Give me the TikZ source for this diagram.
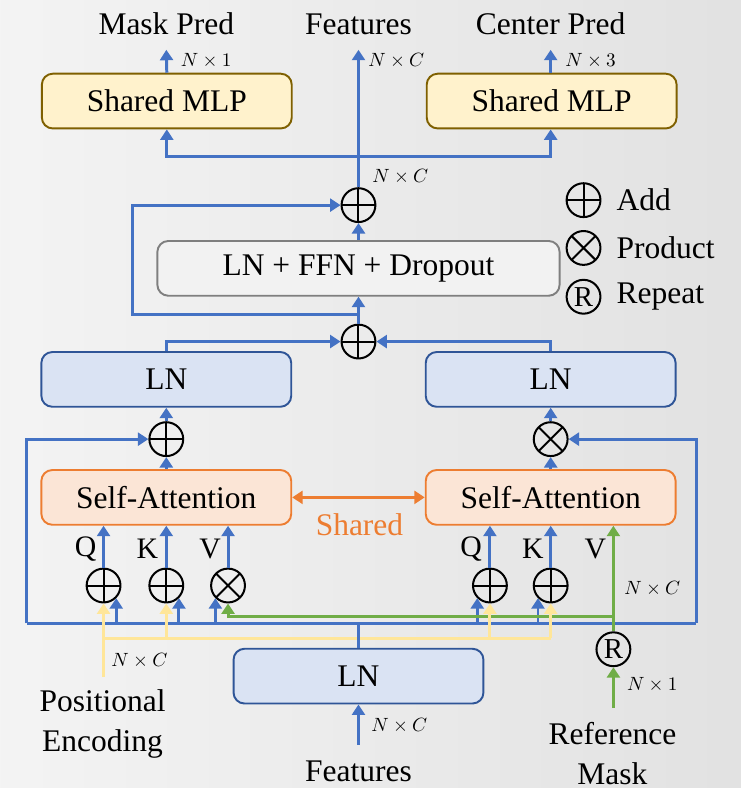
\documentclass[tikz,border=0pt]{standalone}
\usepackage{fontspec}
\setmainfont{Liberation Serif}
\usetikzlibrary{positioning,arrows.meta}

\definecolor{lnfill}{HTML}{DAE3F3}
\definecolor{lnedge}{HTML}{2F5597}
\definecolor{mlpfill}{HTML}{FFF2CC}
\definecolor{mlpedge}{HTML}{7F6000}
\definecolor{safill}{HTML}{FBE5D6}
\definecolor{saedge}{HTML}{ED7D31}
\definecolor{ffnfill}{HTML}{F2F2F2}
\definecolor{ffnedge}{HTML}{7F7F7F}
\definecolor{wire}{HTML}{4472C4}
\definecolor{poswire}{HTML}{FFE699}
\definecolor{maskwire}{HTML}{70AD47}

\begin{document}
\begin{tikzpicture}[
      x=0.02cm, y=-0.02cm,
      font=\fontsize{18}{23}\selectfont,
      box/.style={draw, rounded corners=2.2mm, line width=1.1pt, minimum width=5.02cm,
                  minimum height=1.1cm, inner sep=0pt},
      lnbox/.style={box, fill=lnfill, draw=lnedge},
      mlpbox/.style={box, fill=mlpfill, draw=mlpedge},
      attnbox/.style={box, fill=safill, draw=saedge},
      ffnbox/.style={box, fill=ffnfill, draw=ffnedge, minimum width=8.08cm},
      op/.style={circle, draw, line width=1.15pt, minimum size=0.68cm, inner sep=0pt},
      addop/.style={op, path picture={\draw[line width=1.15pt]
          (path picture bounding box.north) -- (path picture bounding box.south)
          (path picture bounding box.west) -- (path picture bounding box.east);}},
      mulop/.style={op, path picture={\draw[line width=1.15pt]
          (path picture bounding box.north west) -- (path picture bounding box.south east)
          (path picture bounding box.south west) -- (path picture bounding box.north east);}},
      rptop/.style={op, font=\fontsize{16.5}{16.5}\selectfont},
      flow/.style={-{Triangle[length=2.1mm,width=2.6mm]}, wire, line width=1.7pt},
      bus/.style={wire, line width=1.7pt},
      posflow/.style={flow, poswire},
      maskflow/.style={flow, maskwire},
      shareflow/.style={{Triangle[length=2.1mm,width=2.6mm]}-{Triangle[length=2.1mm,width=2.6mm]},
                        saedge, line width=1.7pt},
      dimlab/.style={font=\fontsize{10.5}{12}\selectfont},
      qkv/.style={font=\fontsize{17}{18}\selectfont},
    ]
    \fill[left color=gray!9, right color=gray!23] (0,0) rectangle (744,791);

    \node[mlpbox] (mlpl) at (167.5,101.5) {Shared MLP};
    \node[mlpbox] (mlpr) at (554,101.5) {Shared MLP};
    \node[addop] (addtop) at (360,206) {};
    \node[ffnbox] (ffn) at (360,269.5) {LN + FFN + Dropout};
    \node[addop] (addmid) at (360,343) {};
    \node[lnbox] (lnl) at (167,381) {LN};
    \node[lnbox] (lnr) at (553,381) {LN};
    \node[addop] (addl) at (167,441) {};
    \node[mulop] (mulr) at (553,441) {};
    \node[attnbox] (sal) at (167,499.5) {Self-Attention};
    \node[attnbox] (sar) at (553,499.5) {Self-Attention};
    \node[addop] (ql) at (104,588) {};
    \node[addop] (kl) at (167,588) {};
    \node[mulop] (vl) at (229,588) {};
    \node[addop] (qr) at (492,588) {};
    \node[addop] (kr) at (553,588) {};
    \node[rptop] (rep) at (616,652) {R};
    \node[lnbox] (lnin) at (360,679) {LN};

    \node (maskpred) at (167,24) {Mask Pred};
    \node (featout) at (360,24) {Features};
    \node (ctrpred) at (553,24) {Center Pred};
    \node[text=saedge] (shared) at (361,527) {Shared};
    \node[align=center] (posenc) at (103,727) {Positional\\Encoding};
    \node (featin) at (360,775) {Features};
    \node[align=center] (refmask) at (615,757) {Reference\\Mask};

    \node[qkv] (qlabl) at (86,551) {Q};
    \node[qkv] (klabl) at (148,551) {K};
    \node[qkv] (vlabl) at (211,551) {V};
    \node[qkv] (qlabr) at (473,551) {Q};
    \node[qkv] (klabr) at (535,551) {K};
    \node[qkv] (vlabr) at (598,551) {V};

    \node[addop] (lgadd) at (586,201) {};
    \node[mulop] (lgmul) at (586,249) {};
    \node[rptop] (lgrep) at (586,298) {R};
    \node[right=0.18cm of lgadd] (lgaddtxt) {Add};
    \node[right=0.18cm of lgmul] (lgmultxt) {Product};
    \node[right=0.18cm of lgrep] (lgreptxt) {Repeat};

    \node[dimlab] at (207,61) {$N\times 1$};
    \node[dimlab] at (398,61) {$N\times C$};
    \node[dimlab] at (593,61) {$N\times 3$};
    \node[dimlab] at (402,178) {$N\times C$};
    \node[dimlab] at (655,591) {$N\times C$};
    \node[dimlab] at (655,688) {$N\times 1$};
    \node[dimlab] at (140,664) {$N\times C$};
    \node[dimlab] at (401,729) {$N\times C$};

    \coordinate (maskout) at (167,50);
    \coordinate (featend) at (360,50);
    \coordinate (ctrout) at (553,50);
    \coordinate (split) at (360,157);
    \coordinate (resid) at (360,316);
    \coordinate (busl) at (27,626);
    \coordinate (busr) at (699,626);
    \coordinate (posin) at (104,680);
    \coordinate (posbus) at (104,641);
    \coordinate (maskin) at (616,711);
    \coordinate (maskbus) at (616,619);
    \coordinate (featsrc) at (360,748);

    \draw[flow] (mlpl.north) -- (maskout);
    \draw[flow] (addtop.north) -- (featend);
    \draw[flow] (mlpr.north -| ctrout) -- (ctrout);
    \draw[flow] (split) -| (mlpl.south);
    \draw[flow] (split) -| (mlpr.south -| ctrout);
    \draw[flow] (ffn.north) -- (addtop.south);
    \draw[flow] (resid) -- ++(-227,0) |- (addtop.west);
    \draw[flow] (addmid.north) -- (ffn.south);
    \draw[flow] (lnl.north) |- (addmid.west);
    \draw[flow] (lnr.north) |- (addmid.east);
    \draw[flow] (addl.north) -- (lnl.south);
    \draw[flow] (mulr.north) -- (lnr.south);
    \draw[flow] (sal.north) -- (addl.south);
    \draw[flow] (sar.north) -- (mulr.south);
    \draw[shareflow] (sal.east) -- (sar.west);

    \draw[flow] (ql.north) -- (ql.north |- sal.south);
    \draw[flow] (kl.north) -- (kl.north |- sal.south);
    \draw[flow] (vl.north) -- (vl.north |- sal.south);
    \draw[flow] (qr.north) -- (qr.north |- sar.south);
    \draw[flow] (kr.north) -- (kr.north |- sar.south);

    \draw[poswire, line width=1.7pt] (posin) -- (posbus) -- (posbus -| kr.south);

    \draw[flow] (featsrc) -- (lnin.south);
    \draw[bus] (lnin.north) -- (lnin.north |- busl);
    \draw[bus] (busl) -- (busr);
    \draw[flow] (busl) |- (addl.west);
    \draw[flow] (busr) |- (mulr.east);
    \draw[flow] (ql.315 |- busl) -- (ql.315);
    \draw[flow] (kl.315 |- busl) -- (kl.315);
    \draw[flow] (vl.225 |- busl) -- (vl.225);
    \draw[flow] (qr.225 |- busl) -- (qr.225);
    \draw[flow] (kr.225 |- busl) -- (kr.225);

    \draw[maskflow] (maskin) -- (rep.south);
    \draw[maskflow] (rep.north) -- (rep.north |- sar.south);
    \draw[maskflow] (maskbus) -| (vl.south);

    \draw[posflow] (posbus) -- (ql.south);
    \draw[posflow] (posbus -| kl.south) -- (kl.south);
    \draw[posflow] (posbus -| qr.south) -- (qr.south);
    \draw[posflow] (posbus -| kr.south) -- (kr.south);
  \end{tikzpicture}
\end{document}
